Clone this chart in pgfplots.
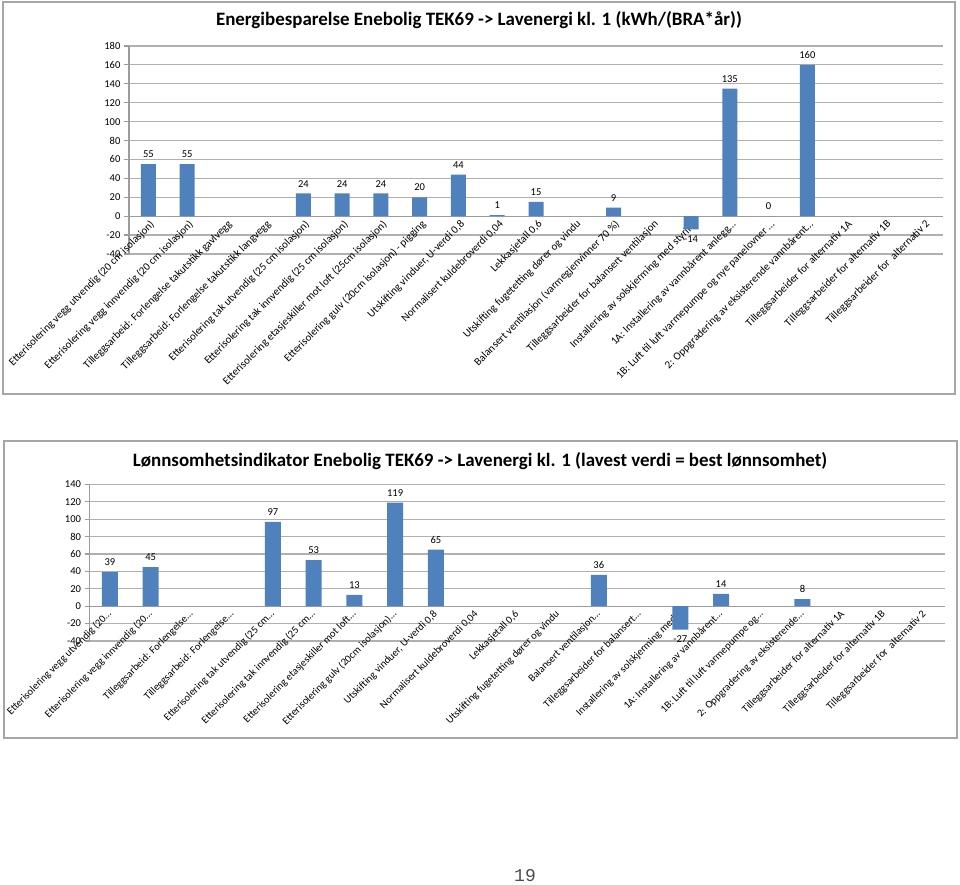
\documentclass[border=0pt]{standalone}
\usepackage{fontspec}
\setmainfont{Carlito}
\newfontfamily\pagefont{Liberation Mono}
\usepackage{pgfplots}
\pgfplotsset{compat=1.18}
\definecolor{barblue}{HTML}{4F81BD}
\definecolor{gridgray}{HTML}{B0B0B0}
\definecolor{axisgray}{HTML}{9C9C9C}
\definecolor{framegray}{HTML}{A6A6A6}

\pgfplotsset{
  excelbar/.style={
    scale only axis,
    anchor=south west,
    xmin=-0.5, xmax=20.5,
    xtick={0,...,20},
    ybar,
    enlargelimits=false,
    axis x line*=middle,
    axis y line*=left,
    axis line style={axisgray, line width=0.9pt},
    ymajorgrids,
    grid style={gridgray, line width=0.9pt},
    ytick style={axisgray, line width=0.9pt},
    tick align=outside,
    major tick length=3.75pt,
    xtick style={draw=none},
    /pgf/number format/assume math mode=true,
    yticklabel style={font=\fontsize{7.9}{9}\selectfont, inner sep=2.5pt},
    nodes near coords,
    every node near coord/.append style={font=\fontsize{7.9}{9}\selectfont, black, inner sep=4.5pt},
    clip=false,
  }
}

\begin{document}
\begin{tikzpicture}[x=0.75pt, y=0.75pt]
\path[use as bounding box] (0,0) rectangle (960,885);
\fill[white] (0,0) rectangle (960,885);
% frames
\draw[framegray, line width=0.9pt] (3,883) rectangle (955,491);
\draw[framegray, line width=0.9pt] (4,444) rectangle (957,147);

% titles
\node[font=\bfseries\fontsize{14.2}{16}\selectfont] at (479,865) {Energibesparelse Enebolig TEK69 -> Lavenergi kl. 1 (kWh/(BRA*år))};
\node[font=\bfseries\fontsize{14.2}{16}\selectfont] at (480,424.3) {Lønnsomhetsindikator Enebolig TEK69 -> Lavenergi kl. 1 (lavest verdi = best lønnsomhet)};

% page number
\node[font=\pagefont\fontsize{13.5}{15}\selectfont, text=black!70] at (525,9) {19};

\begin{axis}[excelbar,
  at={(96.75pt,473.25pt)},
  width=610.5pt, height=156pt,
  ymin=-40, ymax=180, ytick={-40,-20,...,180},
  bar width=11.25pt,
  xticklabel style={font=\fontsize{8.2}{9}\selectfont, xshift=5pt, yshift=-2.5pt, rotate=45, anchor=base east, inner sep=0pt},
  xticklabels={
    {Etterisolering vegg utvendig (20 cm isolasjon)},
    {Etterisolering vegg innvendig (20 cm isolasjon)},
    {Tilleggsarbeid: Forlengelse takutstikk gavlvegg},
    {Tilleggsarbeid: Forlengelse takutstikk langvegg},
    {Etterisolering tak utvendig (25 cm isolasjon)},
    {Etterisolering tak innvendig (25 cm isolasjon)},
    {Etterisolering etasjeskiller mot loft (25cm isolasjon)},
    {Etterisolering gulv (20cm isolasjon) - pigging},
    {Utskifting vinduer, U-verdi 0,8},
    {Normalisert kuldebroverdi 0,04},
    {Lekkasjetall 0,6},
    {Utskifting fugetetting dører og vindu},
    {Balansert ventilasjon (varmegjenvinner 70 \%)},
    {Tilleggsarbeider for balansert ventilasjon},
    {Installering av solskjerming med styring},
    {1A: Installering av vannbårent anlegg…},
    {1B: Luft til luft varmepumpe og nye panelovner …},
    {2: Oppgradering av eksisterende vannbårent…},
    {Tilleggsarbeider for alternativ 1A},
    {Tilleggsarbeider for alternativ 1B},
    {Tilleggsarbeider for~~alternativ 2}},
]
\addplot[fill=barblue, draw=none] coordinates {
  (0,55) (1,55) (4,24) (5,24) (6,24) (7,20) (8,44) (9,1) (10,15)
  (12,9) (14,-14) (15,135) (16,0) (17,160)
};
\end{axis}

\begin{axis}[excelbar,
  at={(67.2pt,183pt)},
  width=641.6pt, height=117.5pt,
  ymin=-40, ymax=140, ytick={-40,-20,...,140},
  bar width=12pt,
  xticklabel style={font=\fontsize{7.9}{9}\selectfont, xshift=1.5pt, yshift=-2.5pt, rotate=45, anchor=base east, inner sep=0pt},
  xticklabels={
    {Etterisolering vegg utvendig (20…},
    {Etterisolering vegg innvendig (20…},
    {Tilleggsarbeid: Forlengelse…},
    {Tilleggsarbeid: Forlengelse…},
    {Etterisolering tak utvendig (25 cm…},
    {Etterisolering tak innvendig (25 cm…},
    {Etterisolering etasjeskiller mot loft…},
    {Etterisolering gulv (20cm isolasjon)…},
    {Utskifting vinduer, U-verdi 0,8},
    {Normalisert kuldebroverdi 0,04},
    {Lekkasjetall 0,6},
    {Utskifting fugetetting dører og vindu},
    {Balansert ventilasjon…},
    {Tilleggsarbeider for balansert…},
    {Installering av solskjerming med…},
    {1A: Installering av vannbårent…},
    {1B: Luft til luft varmepumpe og…},
    {2: Oppgradering av eksisterende…},
    {Tilleggsarbeider for alternativ 1A},
    {Tilleggsarbeider for alternativ 1B},
    {Tilleggsarbeider for~~alternativ 2}},
]
\addplot[fill=barblue, draw=none] coordinates {
  (0,39) (1,45) (4,97) (5,53) (6,13) (7,119) (8,65)
  (12,36) (14,-27) (15,14) (17,8)
};
\end{axis}
\end{tikzpicture}
\end{document}
